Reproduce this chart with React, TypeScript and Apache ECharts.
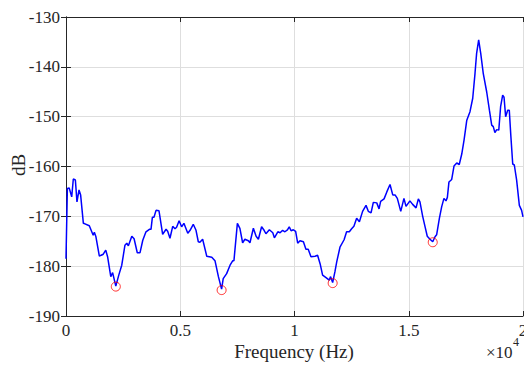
import React, { useEffect, useRef } from "react";
import * as echarts from "echarts";

// Frequency in units of 10^4 Hz
const freq: number[] = [
  0, 0.003, 0.006, 0.014, 0.025, 0.032, 0.041, 0.048, 0.057, 0.064, 0.076, 0.083, 0.102, 0.119, 0.124, 0.131,
  0.146, 0.154, 0.163, 0.174, 0.182, 0.196, 0.204, 0.218, 0.231, 0.244, 0.258, 0.266, 0.273, 0.288, 0.298,
  0.312, 0.324, 0.336, 0.35, 0.365, 0.372, 0.378, 0.385, 0.394, 0.407, 0.423, 0.438, 0.445, 0.455, 0.467,
  0.477, 0.484, 0.495, 0.506, 0.516, 0.533, 0.543, 0.557, 0.569, 0.579, 0.586, 0.598, 0.616, 0.638, 0.652,
  0.667, 0.681, 0.688, 0.703, 0.718, 0.73, 0.735, 0.75, 0.761, 0.773, 0.783, 0.798, 0.805, 0.82, 0.832,
  0.842, 0.856, 0.867, 0.875, 0.89, 0.905, 0.912, 0.927, 0.937, 0.948, 0.958, 0.969, 0.977, 0.985, 0.995,
  1.005, 1.014, 1.024, 1.039, 1.05, 1.06, 1.072, 1.09, 1.101, 1.112, 1.123, 1.138, 1.152, 1.158, 1.167,
  1.177, 1.185, 1.199, 1.217, 1.228, 1.24, 1.25, 1.26, 1.272, 1.284, 1.298, 1.313, 1.323, 1.335, 1.345,
  1.36, 1.37, 1.377, 1.392, 1.404, 1.418, 1.43, 1.44, 1.45, 1.465, 1.479, 1.488, 1.505, 1.517, 1.532,
  1.542, 1.549, 1.561, 1.571, 1.581, 1.593, 1.605, 1.615, 1.622, 1.634, 1.644, 1.654, 1.663, 1.669,
  1.676, 1.688, 1.698, 1.71, 1.721, 1.732, 1.742, 1.754, 1.768, 1.78, 1.79, 1.797, 1.806, 1.815, 1.826,
  1.841, 1.853, 1.863, 1.87, 1.877, 1.885, 1.894, 1.902, 1.911, 1.917, 1.924, 1.933, 1.94, 1.947, 1.955,
  1.962, 1.972, 1.984, 1.994, 2.0,
];

const magnitudeDb: number[] = [
  -178.5, -178.5, -164.4, -164.3, -166.1, -162.5, -162.7, -167.1, -164.7, -165.7, -171.4, -171.5, -171.9, -173.8, -173.2, -174.1,
  -178.0, -177.8, -177.6, -176.8, -178.1, -182.1, -181.3, -184.0, -181.8, -179.8, -175.8, -175.4, -175.9, -174.0, -174.5,
  -177.3, -177.3, -174.8, -173.1, -172.6, -172.6, -170.2, -170.2, -168.8, -168.9, -173.6, -172.6, -173.0, -174.4, -172.0,
  -172.5, -172.2, -170.9, -172.1, -171.4, -173.4, -172.8, -171.6, -172.8, -175.1, -175.2, -174.6, -178.0, -178.2, -178.9,
  -182.1, -184.6, -182.5, -181.5, -179.8, -178.9, -178.9, -171.4, -172.4, -175.3, -174.6, -174.9, -175.3, -172.4, -174.0,
  -174.6, -172.1, -172.8, -173.5, -172.7, -173.3, -174.3, -173.1, -173.3, -172.8, -173.1, -172.7, -172.1, -172.9, -172.7,
  -173.0, -175.4, -174.9, -175.1, -176.6, -176.6, -178.1, -178.0, -177.8, -179.5, -181.8, -182.3, -182.8, -182.1, -183.3,
  -181.1, -179.1, -176.2, -174.7, -173.1, -173.1, -172.5, -172.0, -170.4, -171.1, -169.0, -167.8, -169.0, -169.3, -167.2,
  -167.3, -168.5, -167.0, -166.5, -165.1, -163.6, -165.7, -165.7, -166.4, -169.0, -166.4, -168.0, -166.9, -167.6, -168.3,
  -166.5, -167.1, -170.0, -172.0, -174.0, -174.6, -175.1, -174.1, -173.7, -170.4, -168.1, -166.4, -166.9, -166.2,
  -163.1, -162.6, -159.9, -159.3, -159.6, -157.5, -154.7, -150.7, -149.0, -146.3, -141.3, -137.3, -134.6, -137.3, -141.3,
  -145.0, -148.7, -151.7, -152.0, -153.2, -152.6, -152.7, -148.0, -145.7, -146.1, -150.0, -148.7, -148.7, -154.0, -159.5,
  -159.7, -162.7, -167.8, -168.8, -170.1,
];

const minimaFreq: number[] = [0.218, 0.681, 1.167, 1.605];
const minimaDb: number[] = [-184.1, -184.8, -183.4, -175.2];

const xTicks: number[] = [0, 0.5, 1, 1.5, 2];
const yTicks: number[] = [-190, -180, -170, -160, -150, -140, -130];

const SERIF = "Liberation Serif";
const AXIS = "#262626";
const GRID = "#dedede";

export default function App() {
  const ref = useRef<HTMLDivElement>(null);

  useEffect(() => {
    if (!ref.current) return;
    const chart = echarts.init(ref.current, undefined, { renderer: "svg" });
    const lineData = freq.map((f, i) => [f, magnitudeDb[i]]);
    const minData = minimaFreq.map((f, i) => [f, minimaDb[i]]);
    const labelStyle = { fontFamily: SERIF, fontSize: 17, color: AXIS, fontWeight: "normal" as const };

    const baseX = {
      type: "value" as const,
      min: xTicks[0],
      max: xTicks[xTicks.length - 1],
      interval: 0.5,
      axisLine: { show: true, lineStyle: { color: AXIS, width: 1 } },
      axisTick: { show: true, inside: true, length: 5, lineStyle: { color: AXIS } },
      splitLine: { show: false },
    };
    const baseY = {
      type: "value" as const,
      min: yTicks[0],
      max: yTicks[yTicks.length - 1],
      interval: 10,
      axisLine: { show: true, lineStyle: { color: AXIS, width: 1 } },
      axisTick: { show: true, inside: true, length: 5, lineStyle: { color: AXIS } },
      splitLine: { show: false },
    };

    chart.setOption({
      animation: false,
      backgroundColor: "#ffffff",
      textStyle: { fontFamily: SERIF },
      grid: { left: 66, right: 1, top: 17, bottom: 49, containLabel: false, outerBoundsMode: "none" },
      xAxis: [
        {
          ...baseX,
          position: "bottom",
          axisLabel: {
            ...labelStyle,
            margin: 6,
            formatter: (v: number) => String(v),
          },
          splitLine: { show: true, lineStyle: { color: GRID, width: 1 } },
        },
        { ...baseX, position: "top", axisLabel: { show: false } },
      ],
      yAxis: [
        {
          ...baseY,
          position: "left",
          axisLabel: { ...labelStyle, margin: 6 },
          splitLine: { show: true, lineStyle: { color: GRID, width: 1 } },
        },
        { ...baseY, position: "right", axisLabel: { show: false } },
      ],
      series: [
        {
          type: "line",
          data: lineData,
          showSymbol: false,
          symbol: "none",
          lineStyle: { color: "#0000ff", width: 1.5 },
          xAxisIndex: 0,
          yAxisIndex: 0,
          z: 3,
        },
        {
          type: "scatter",
          data: minData,
          symbol: "circle",
          symbolSize: 9,
          itemStyle: { color: "transparent", borderColor: "#ff0000", borderWidth: 1 },
          xAxisIndex: 0,
          yAxisIndex: 0,
          z: 4,
        },
      ],
      graphic: [
        {
          type: "text",
          x: 294,
          y: 351,
          style: {
            text: "Frequency (Hz)",
            fontFamily: SERIF,
            fontSize: 19,
            fill: AXIS,
            align: "center",
            verticalAlign: "middle",
          },
        },
        {
          type: "text",
          x: 18,
          y: 165,
          rotation: Math.PI / 2,
          style: {
            text: "dB",
            fontFamily: SERIF,
            fontSize: 19,
            fill: AXIS,
            align: "center",
            verticalAlign: "middle",
          },
        },
        {
          type: "text",
          x: 486,
          y: 352,
          style: {
            text: "×10",
            fontFamily: SERIF,
            fontSize: 17,
            fill: AXIS,
            align: "left",
            verticalAlign: "middle",
          },
        },
        {
          type: "text",
          x: 513,
          y: 342,
          style: {
            text: "4",
            fontFamily: SERIF,
            fontSize: 12,
            fill: AXIS,
            align: "left",
            verticalAlign: "middle",
          },
        },
      ],
    });
    return () => chart.dispose();
  }, []);

  return (
    <div
      ref={ref}
      style={{ position: "fixed", left: 0, top: 0, width: 524, height: 365, background: "#fff" }}
    />
  );
}
